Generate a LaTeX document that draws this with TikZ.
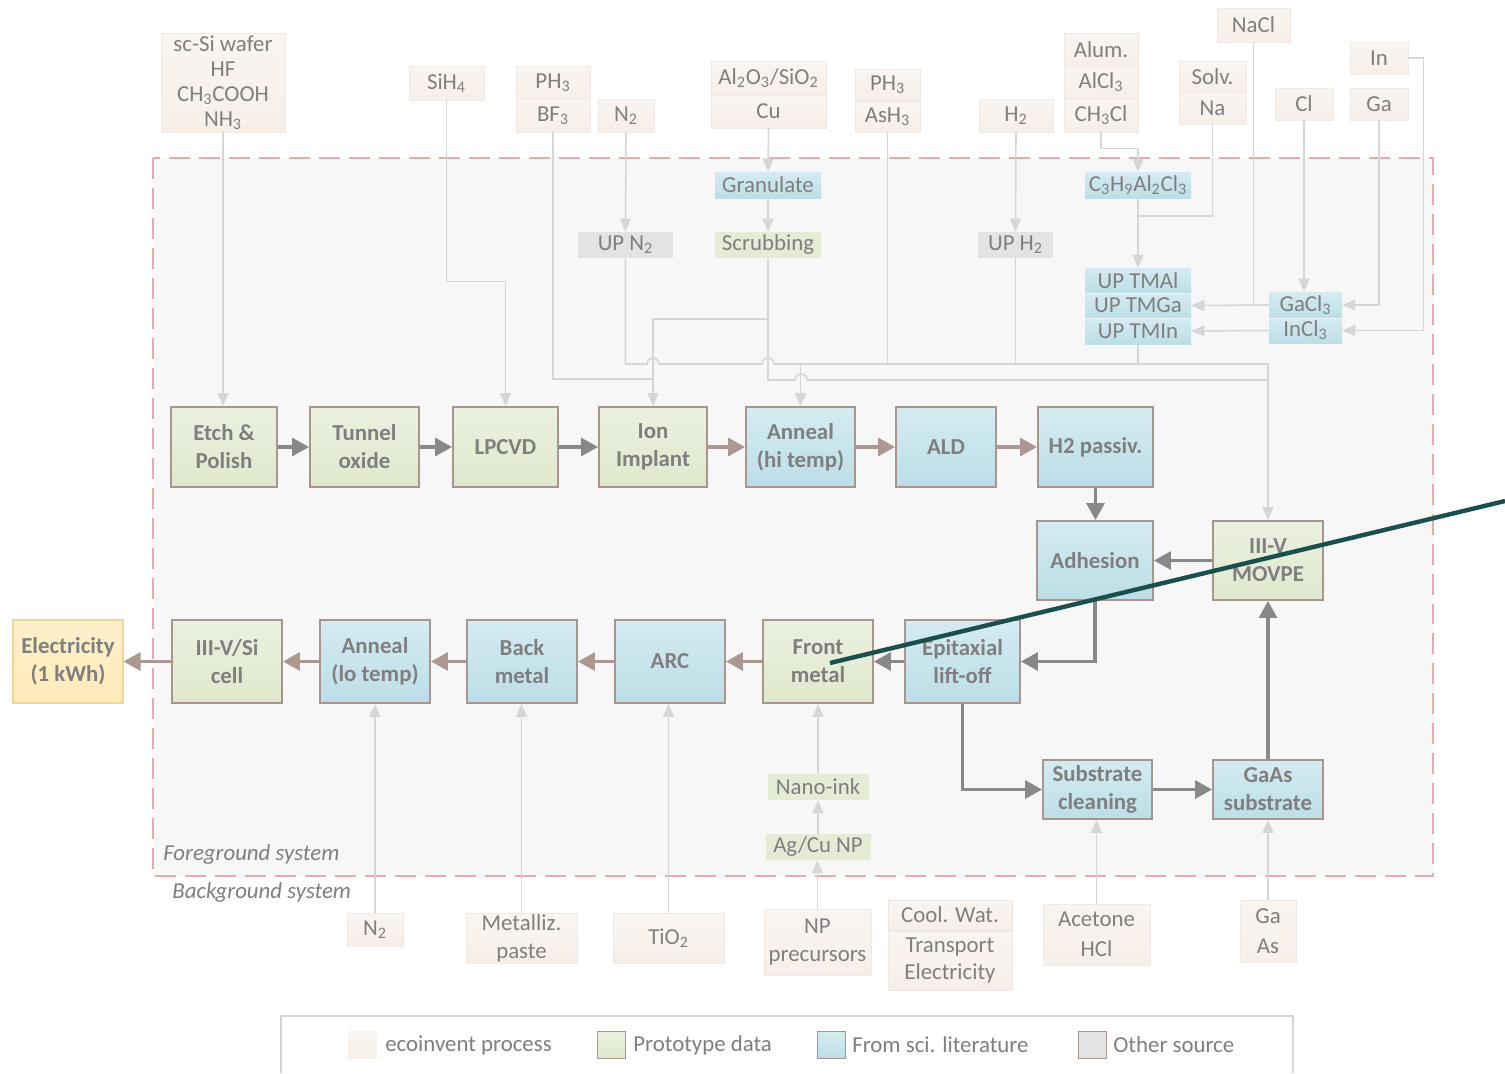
\documentclass[tikz,border=0pt]{standalone}
\usepackage{fontspec}
\setmainfont{Carlito}
\usetikzlibrary{arrows.meta}
\definecolor{txt}{HTML}{7F7F7F}
\definecolor{thinc}{HTML}{D6D6D6}
\definecolor{garc}{HTML}{888888}
\definecolor{barc}{HTML}{AD9792}
\definecolor{pbord}{HTML}{A9958F}
\definecolor{gT}{HTML}{EAF0DF}
\definecolor{gB}{HTML}{E0E9CD}
\definecolor{gF}{HTML}{E4ECD6}
\definecolor{bT}{HTML}{D5EBF1}
\definecolor{bB}{HTML}{BCDEE7}
\definecolor{ecoT}{HTML}{FAF5F1}
\definecolor{ecoB}{HTML}{F7EEE8}
\definecolor{ecoD}{HTML}{F0E9E4}
\definecolor{grF}{HTML}{E3E3E3}
\definecolor{yT}{HTML}{FFF0CB}
\definecolor{yB}{HTML}{FFEAB8}
\definecolor{yD}{HTML}{F2D594}
\definecolor{fgbg}{HTML}{F7F7F7}
\definecolor{dashc}{HTML}{EDA8A8}
\definecolor{tealc}{HTML}{1B4F4E}
\definecolor{legc}{HTML}{D5D5D5}
\newcommand{\sbs}[1]{\textsubscript{#1}}
\begin{document}
\begin{tikzpicture}[x=0.02cm,y=-0.02cm,
  sz/.style 2 args={minimum width=#1*0.02cm, minimum height=#2*0.02cm},
  base/.style={inner sep=0pt, align=center, text=txt, font=\fontsize{13}{18.7}\selectfont},
  eco/.style={base, top color=ecoT, bottom color=ecoB, draw=ecoD, line width=0.5pt},
  proc/.style={inner sep=0pt, align=center, text=txt, font=\fontsize{13}{15.9}\selectfont\bfseries, draw=pbord, line width=1.1pt},
  pg/.style={proc, top color=gT, bottom color=gB},
  pb/.style={proc, top color=bT, bottom color=bB},
  smb/.style={base, top color=bT, bottom color=bB},
  smg/.style={base, fill=gF},
  smgr/.style={base, fill=grF},
  thinl/.style={draw=thinc, line width=0.9pt},
  thina/.style={thinl, -{Triangle[width=0.22cm,length=0.26cm]}},
  garr/.style={draw=garc, line width=1.8pt, -{Triangle[width=0.36cm,length=0.34cm]}},
  barr/.style={draw=barc, line width=1.8pt, -{Triangle[width=0.36cm,length=0.34cm]}},
  lbl/.style={inner sep=0pt, anchor=west, text=txt, font=\fontsize{13}{15.9}\selectfont}
]
\useasboundingbox (0,0) rectangle (1505,1073);
\fill[white] (0,0) rectangle (1505,1073);

% foreground system
\fill[fgbg] (153,158) rectangle (1433,876);
\draw[dashc, line width=1.1pt, dash pattern=on 0.42cm off 0.18cm] (153,158) rectangle (1433,876);

% top ecoinvent inputs
\node[eco, sz={124}{99}, font=\fontsize{13}{14.2}\selectfont] (scsi) at (223,82.5) {sc-Si wafer\\HF\\CH\sbs{3}COOH\\NH\sbs{3}};
\node[eco, sz={75}{34}] (sih4) at (446.5,83) {SiH\sbs{4}};
\node[eco, sz={74}{33}] (ph3a) at (553,82.5) {PH\sbs{3}};
\node[eco, sz={74}{33}] (bf3) at (553,115.5) {BF\sbs{3}};
\node[eco, sz={56}{33}] (n2top) at (626,115.5) {N\sbs{2}};
\node[eco, sz={115}{34}] (al2o3) at (768.5,78) {Al\sbs{2}O\sbs{3}/SiO\sbs{2}};
\node[eco, sz={115}{33}] (cu) at (768.5,111.5) {Cu};
\node[eco, sz={65}{32}] (ph3b) at (887.5,85) {PH\sbs{3}};
\node[eco, sz={65}{31}] (ash3) at (887.5,116.5) {AsH\sbs{3}};
\node[eco, sz={74}{33}] (h2top) at (1016,115.5) {H\sbs{2}};
\node[eco, sz={74}{33}] (alum) at (1101,49.5) {Alum.};
\node[eco, sz={74}{33}] (alcl3) at (1101,82.5) {AlCl\sbs{3}};
\node[eco, sz={74}{33}] (ch3cl) at (1101,115.5) {CH\sbs{3}Cl};
\node[eco, sz={67}{31}] (solv) at (1212.5,76.5) {Solv.};
\node[eco, sz={67}{32}] (na) at (1212.5,108) {Na};
\node[eco, sz={73}{34}] (nacl) at (1253.5,25) {NaCl};
\node[eco, sz={58}{32}] (cl) at (1304,104) {Cl};
\node[eco, sz={58}{32}] (inn) at (1379,58) {In};
\node[eco, sz={58}{32}] (ga) at (1379,104) {Ga};

% intermediate nodes
\node[smb, sz={106}{26}] (gran) at (768,185) {Granulate};
\node[smg, sz={106}{26}] (scrub) at (768,245) {Scrubbing};
\node[smgr, sz={95}{26}] (upn2) at (625.5,245) {UP N\sbs{2}};
\node[smgr, sz={75}{26}] (uph2) at (1015.5,245) {UP H\sbs{2}};
\node[smb, sz={106}{26}] (c3h9) at (1138,185) {C\sbs{3}H\sbs{9}Al\sbs{2}Cl\sbs{3}};
\node[smb, sz={106}{25}] (tmal) at (1138,280.5) {UP TMAl};
\node[smb, sz={106}{25}] (tmga) at (1138,305.5) {UP TMGa};
\node[smb, sz={106}{26}] (tmin) at (1138,331) {UP TMIn};
\node[smb, sz={73}{26}] (gacl3) at (1305.5,305) {GaCl\sbs{3}};
\node[smb, sz={73}{25}] (incl3) at (1305.5,330.5) {InCl\sbs{3}};
\draw[white!70!bB, line width=0.6pt] (tmal.south west) -- (tmal.south east);
\draw[white!70!bB, line width=0.6pt] (tmga.south west) -- (tmga.south east);
\draw[white!70!bB, line width=0.6pt] (gacl3.south west) -- (gacl3.south east);

% process nodes
\node[pg, sz={106}{80}] (etch) at (224,447) {Etch \&\\Polish};
\node[pg, sz={109}{80}] (tunnel) at (364.5,447) {Tunnel\\oxide};
\node[pg, sz={105}{80}] (lpcvd) at (505.5,447) {LPCVD};
\node[pg, sz={108}{80}] (ion) at (653,447) {Ion\\Implant};
\node[pb, sz={109}{80}] (annhi) at (800.5,447) {Anneal\\(hi temp)};
\node[pb, sz={100}{80}] (ald) at (946,447) {ALD};
\node[pb, sz={115}{80}] (h2p) at (1095.5,447) {H2 passiv.};
\node[pb, sz={116}{79}] (adh) at (1095,560.5) {Adhesion};
\node[pg, sz={110}{79}] (movpe) at (1268,560.5) {III-V\\MOVPE};
\node[proc, top color=yT, bottom color=yB, draw=yD, line width=0.6pt, sz={110}{83}] (elec) at (68,661.5) {Electricity\\(1 kWh)};
\node[pg, sz={110}{83}] (cell) at (227,661.5) {III-V/Si\\cell};
\node[pb, sz={110}{83}] (annlo) at (375,661.5) {Anneal\\(lo temp)};
\node[pb, sz={110}{83}] (back) at (522,661.5) {Back\\metal};
\node[pb, sz={110}{83}] (arcn) at (670,661.5) {ARC};
\node[pg, sz={110}{83}] (front) at (818,661.5) {Front\\metal};
\node[pb, sz={115}{83}] (epi) at (962.5,661.5) {Epitaxial\\lift-off};
\node[pb, sz={109}{59}] (subcl) at (1097.5,789.5) {Substrate\\cleaning};
\node[pb, sz={110}{59}] (gaas) at (1268,789.5) {GaAs\\substrate};
\node[smg, sz={101}{26}] (nano) at (818,787) {Nano-ink};
\node[smg, sz={105}{26}] (agcu) at (818,847) {Ag/Cu NP};

% bottom ecoinvent inputs
\node[eco, sz={56}{33}] (n2bot) at (375,929.5) {N\sbs{2}};
\node[eco, sz={111}{50}, font=\fontsize{13}{15.9}\selectfont] (metal) at (521.5,938) {Metalliz.\\paste};
\node[eco, sz={111}{50}] (tio2) at (668.5,938) {TiO\sbs{2}};
\node[eco, sz={107}{66}, font=\fontsize{13}{15.9}\selectfont] (npprec) at (817.5,942) {NP\\precursors};
\node[eco, sz={124}{30}, draw=ecoD!80!gray!60] (cool) at (950,915) {Cool. Wat.};
\node[eco, sz={124}{59}, font=\fontsize{13}{15.9}\selectfont] (transp) at (950,960.5) {Transport\\Electricity};
\node[eco, sz={107}{61}, font=\fontsize{13}{17}\selectfont] (acet) at (1096.5,934.5) {Acetone\\HCl};
\node[eco, sz={56}{62}, font=\fontsize{13}{17}\selectfont] (gaasin) at (1268,931) {Ga\\As};

% system labels
\node[lbl, font=\fontsize{13}{15.9}\selectfont\itshape] (fgl) at (163,855) {Foreground system};
\node[lbl, font=\fontsize{13}{15.9}\selectfont\itshape] (bgl) at (172,893) {Background system};

% thin input connectors (top)
\draw[thina] (scsi.south) -- (scsi.south |- etch.north);
\draw[thina] (sih4.south) -- ++(0,181) -| (lpcvd.north);
\coordinate (ionJ) at (653,379);
\coordinate (scrJ) at (768,319);
\coordinate (busA) at (1268,364);
\coordinate (busB) at (1268,380);
\coordinate (n2J) at (800.5,364);
\coordinate (naJ) at (1138,216);
\draw[thinl] (bf3.south) |- (ionJ);
\draw[thina] (scrJ) -| (ion.north);
\draw[thina] (n2top.south) -- (upn2.north);
\draw[thina] (cu.south) -- (gran.north);
\draw[thina] (gran.south) -- (scrub.north);
\draw[thinl] (scrub.south) -- (768,380) -- (795,380) arc[start angle=180,end angle=0,radius=0.12cm] -- (busB);
\draw[thina] (upn2.south) -- (625.5,364) -- (647,364) arc[start angle=180,end angle=0,radius=0.12cm] -- (762,364) arc[start angle=180,end angle=0,radius=0.12cm] -- (busA) -- (movpe.north);
\draw[thina] (n2J) -- (annhi.north);
\draw[thinl] (ash3.south) -- (ash3.south |- busA);
\draw[thinl] (uph2.south) -- (uph2.south |- busA);
\draw[thinl] (tmin.south) -- (tmin.south |- busA);
\draw[thina] (h2top.south) -- (uph2.north);
\draw[thina] (ch3cl.south) -- ++(0,16) -| (c3h9.north);
\draw[thina] (c3h9.south) -- (tmal.north);
\draw[thinl] (na.south) |- (naJ);
\draw[thina] (gacl3.west) -- (tmga.east);
\draw[thinl] (nacl.south) -- (nacl.south |- tmga.east);
\draw[thina] (cl.south) -- (cl.south |- gacl3.north);
\draw[thina] (ga.south) |- (gacl3.east);
\draw[thina] (inn.east) -- ++(15,0) |- (incl3.east);
\draw[thina] (incl3.west) -- (tmin.east);

% thin input connectors (bottom)
\draw[thina] (n2bot.north) -- (annlo.south);
\draw[thina] (metal.north) -- (metal.north |- back.south);
\draw[thina] (tio2.north) -- (tio2.north |- arcn.south);
\draw[thina] (npprec.north) -- (npprec.north |- agcu.south);
\draw[thina] (agcu) -- (nano);
\draw[thina] (nano) -- (front);
\draw[thina] (acet.north) -- (acet.north |- subcl.south);
\draw[thina] (gaasin) -- (gaas);

% process flow
\draw[garr] (etch) -- (tunnel);
\draw[garr] (tunnel) -- (lpcvd);
\draw[garr] (lpcvd) -- (ion);
\draw[barr] (ion) -- (annhi);
\draw[barr] (annhi) -- (ald);
\draw[barr] (ald) -- (h2p);
\draw[garr] (h2p.south) -- (h2p.south |- adh.north);
\draw[garr] (movpe) -- (adh);
\draw[garr] (adh.south) |- (epi.east);
\draw[garr] (epi) -- (front);
\draw[barr] (front) -- (arcn);
\draw[barr] (arcn) -- (back);
\draw[barr] (back) -- (annlo);
\draw[barr] (annlo) -- (cell);
\draw[barr] (cell) -- (elec);
\draw[garr] (epi.south) |- (subcl.west);
\draw[garr] (subcl) -- (gaas);
\draw[garr] (gaas) -- (movpe);

% legend
\draw[legc, line width=1.1pt] (281,1073) -- (281,1016) -- (1293,1016) -- (1293,1073);
\node[base, top color=ecoT, bottom color=ecoB, sz={28}{27}] (lg1) at (362.5,1044.5) {};
\node[lbl] (lt1) at (385,1045) {ecoinvent process};
\node[base, top color=gT, bottom color=gB, draw=pbord, line width=0.5pt, sz={28}{27}] (lg2) at (611,1044.5) {};
\node[lbl] (lt2) at (633,1045) {Prototype data};
\node[base, top color=bT, bottom color=bB, draw=pbord, line width=0.5pt, sz={28}{27}] (lg3) at (831,1044.5) {};
\node[lbl] (lt3) at (852,1045) {From sci. literature};
\node[base, fill=grF, draw=pbord, line width=0.5pt, sz={28}{27}] (lg4) at (1092,1044.5) {};
\node[lbl] (lt4) at (1113,1045) {Other source};

% dark line
\coordinate (tealA) at (830,663);
\coordinate (tealB) at (1505,501);
\draw[tealc, line width=2.5pt] (tealA) -- (tealB);
\end{tikzpicture}
\end{document}
